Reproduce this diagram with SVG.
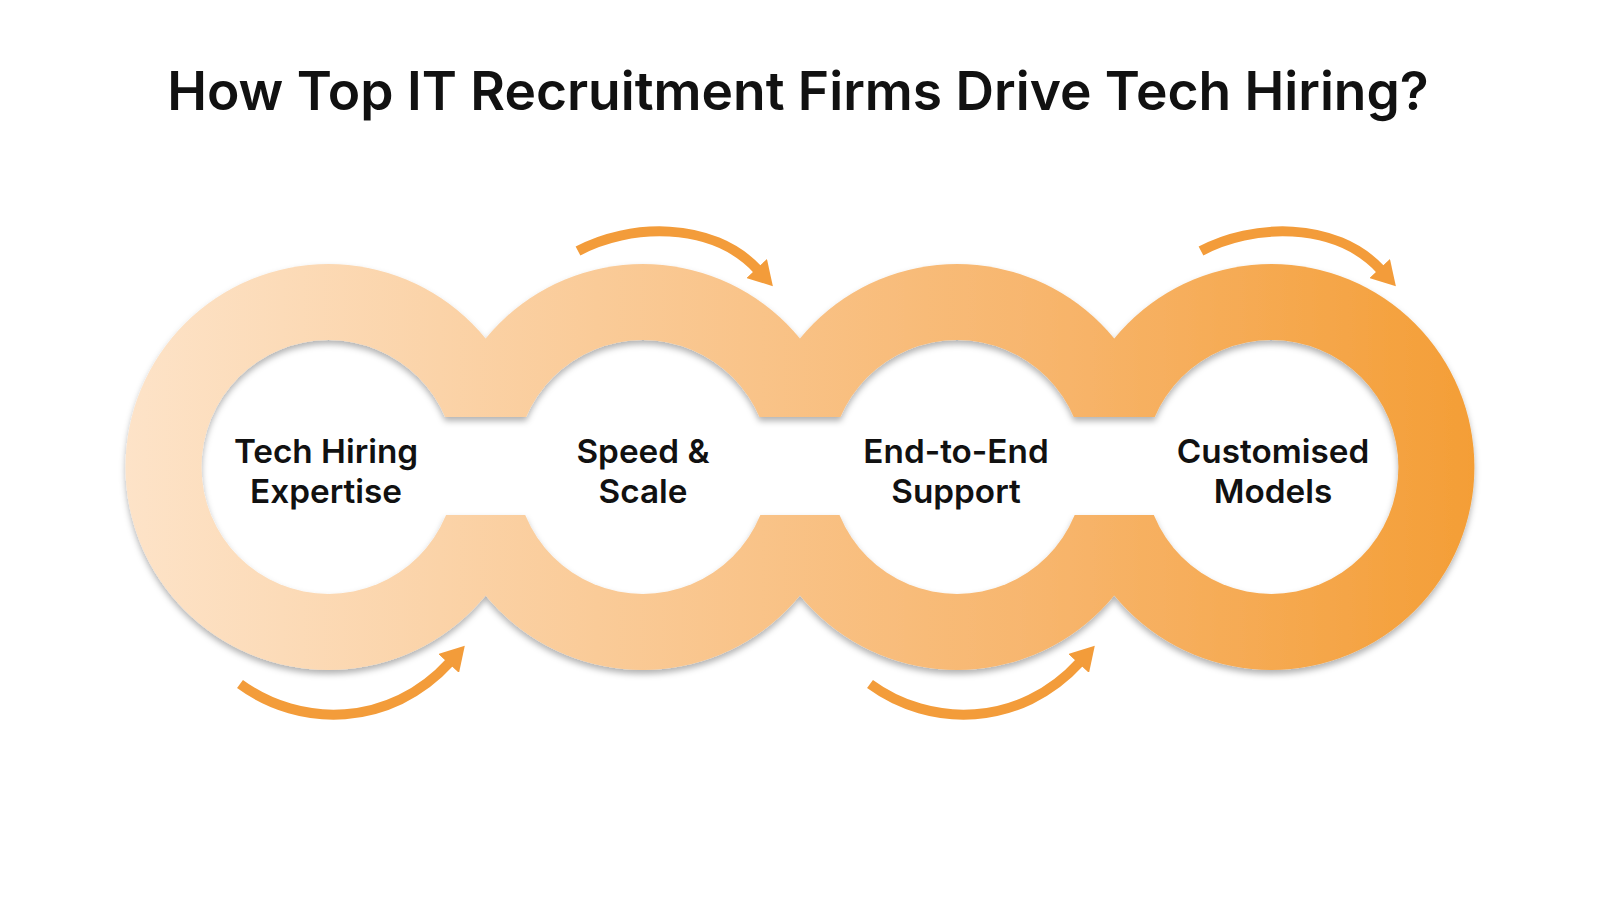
<svg xmlns="http://www.w3.org/2000/svg" width="1600" height="900" viewBox="0 0 1600 900">
  <style>
    .title { font-family: Inter, "Noto Sans", "Liberation Sans", sans-serif; font-weight: 600; font-size: 53.3px; fill: #111111; }
    .label { font-family: Inter, "Noto Sans", "Liberation Sans", sans-serif; font-weight: 600; font-size: 33.3px; fill: #111111; }
    .arrow { fill: none; stroke: #F39C3A; stroke-width: 10; stroke-linecap: butt; }
  </style>
  <defs>
    <linearGradient id="ringGrad" x1="125" y1="0" x2="1475" y2="0" gradientUnits="userSpaceOnUse">
      <stop offset="0" stop-color="#FDE3C8"/>
      <stop offset="0.35" stop-color="#FACB98"/>
      <stop offset="0.7" stop-color="#F7B46A"/>
      <stop offset="1" stop-color="#F49E36"/>
    </linearGradient>
    <filter id="shadow" x="-10%" y="-10%" width="120%" height="130%">
      <feDropShadow dx="0" dy="4" stdDeviation="3" flood-color="#000000" flood-opacity="0.3"/>
    </filter>
    <mask id="holes" maskUnits="userSpaceOnUse" x="0" y="0" width="1600" height="900">
      <rect x="0" y="0" width="1600" height="900" fill="#ffffff"/>
      <circle cx="328.5" cy="467" r="127" fill="#000000"/>
      <circle cx="642.8" cy="467" r="127" fill="#000000"/>
      <circle cx="957.1" cy="467" r="127" fill="#000000"/>
      <circle cx="1271.4" cy="467" r="127" fill="#000000"/>
      <rect x="328.5" y="417" width="943" height="98" fill="#000000"/>
    </mask>
    <marker id="head" viewBox="0 0 24 28" refX="2" refY="14" markerWidth="24" markerHeight="28" markerUnits="userSpaceOnUse" orient="auto">
      <polygon points="0,0 24,14 0,28" fill="#F39C3A"/>
    </marker>
  </defs>

  <rect x="0" y="0" width="1600" height="900" fill="#ffffff"/>

  <text class="title" x="798" y="110" text-anchor="middle">How Top IT Recruitment Firms Drive Tech Hiring?</text>

  <g id="rings" filter="url(#shadow)">
    <g mask="url(#holes)" fill="url(#ringGrad)">
      <circle cx="328.5" cy="467" r="203"/>
      <circle cx="642.8" cy="467" r="203"/>
      <circle cx="957.1" cy="467" r="203"/>
      <circle cx="1271.4" cy="467" r="203"/>
    </g>
  </g>

  <g id="node-1">
    <text class="label" x="326" y="463" text-anchor="middle">Tech Hiring</text>
    <text class="label" x="326" y="503" text-anchor="middle">Expertise</text>
  </g>
  <g id="node-2">
    <text class="label" x="643" y="463" text-anchor="middle">Speed &amp;</text>
    <text class="label" x="643" y="503" text-anchor="middle">Scale</text>
  </g>
  <g id="node-3">
    <text class="label" x="956" y="463" text-anchor="middle">End-to-End</text>
    <text class="label" x="956" y="503" text-anchor="middle">Support</text>
  </g>
  <g id="node-4">
    <text class="label" x="1273" y="463" text-anchor="middle">Customised</text>
    <text class="label" x="1273" y="503" text-anchor="middle">Models</text>
  </g>

  <g id="connectors">
    <path class="arrow" d="M 578 251 C 628 224, 712 220, 758 270" marker-end="url(#head)"/>
    <path class="arrow" d="M 1201 251 C 1251 224, 1335 220, 1381 270" marker-end="url(#head)"/>
    <path class="arrow" d="M 240 684 C 300 728, 390 728, 450 662" marker-end="url(#head)"/>
    <path class="arrow" d="M 870 684 C 930 728, 1020 728, 1080 662" marker-end="url(#head)"/>
  </g>
</svg>
